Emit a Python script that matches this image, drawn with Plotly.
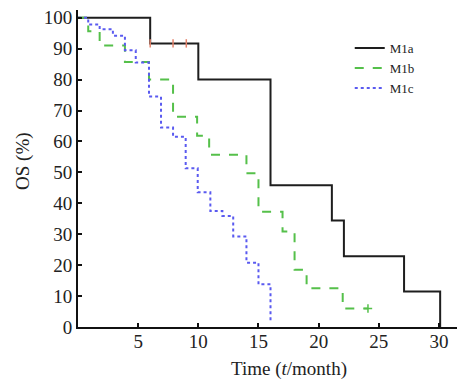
import plotly.graph_objects as go

# Kaplan-Meier step data (time in months, overall survival %)
m1a_t = [0, 6.0, 10.0, 16.0, 21.1, 22.1, 27.1, 30.1]
m1a_s = [100, 91.7, 80.0, 45.8, 34.4, 22.9, 11.5, 0]

m1b_t = [0, 0.85, 1.8, 3.9, 5.9, 7.9, 9.9, 10.9, 14.0, 15.0, 17.0, 18.0, 19.0, 22.0, 24.1]
m1b_s = [100, 95.6, 91.0, 85.7, 80.0, 68.0, 61.8, 55.7, 49.7, 37.3, 30.9, 18.5, 12.5, 6.0, 6.0]

m1c_t = [0, 0.85, 1.8, 2.9, 3.9, 4.8, 5.9, 6.9, 7.9, 8.95, 9.95, 11.0, 12.0, 12.9, 14.0, 15.0, 16.0]
m1c_s = [100, 97.8, 96.3, 94.2, 89.5, 85.5, 74.5, 64.5, 61.5, 51.3, 43.6, 37.5, 35.9, 29.3, 20.8, 13.8, 2.0]

# censored observations
cens_a_t = [6.0, 7.9, 9.0]
cens_a_s = [91.7, 91.7, 91.7]
cens_b_t = [24.1]
cens_b_s = [6.0]

x_ticks = [5, 10, 15, 20, 25, 30]
y_ticks = [0, 10, 20, 30, 40, 50, 60, 70, 80, 90, 100]

names = ["M1a", "M1b", "M1c"]
colors = ["#1e1e1e", "#55c04a", "#5a5af0"]
dashes = ["solid", "dash", "dot"]

FONT = "Liberation Serif"

fig = go.Figure()
for t, s, n, c, d in zip([m1a_t, m1b_t, m1c_t], [m1a_s, m1b_s, m1c_s], names, colors, dashes):
    fig.add_trace(go.Scatter(x=t, y=s, mode="lines", name=n, line_shape="hv",
                             line=dict(color=c, width=2, dash=d)))

fig.add_trace(go.Scatter(x=cens_a_t, y=cens_a_s, mode="markers", showlegend=False,
                         marker=dict(symbol="line-ns", size=6, line=dict(color="#e4826a", width=1.5))))
fig.add_trace(go.Scatter(x=cens_b_t, y=cens_b_s, mode="markers", showlegend=False,
                         marker=dict(symbol="cross-thin", size=6, line=dict(color="#55c04a", width=1.5))))

fig.update_layout(
    width=457, height=380,
    margin=dict(l=78, r=0, t=10, b=53, autoexpand=False),
    plot_bgcolor="white", paper_bgcolor="white",
    font=dict(family=FONT, color="#222222", size=18),
    showlegend=True,
    legend=dict(x=0.717, y=0.927, xanchor="left", yanchor="top",
                bgcolor="rgba(0,0,0,0)", font=dict(family=FONT, size=13, color="#222222"),
                itemwidth=30, tracegroupgap=0),
    xaxis=dict(range=[0, 31.5], tickvals=x_ticks, showline=True, linecolor="#111111", linewidth=2,
               ticks="inside", ticklen=4, tickwidth=1.5, tickcolor="#111111", ticklabelstandoff=-4,
               showgrid=False, zeroline=False, tickfont=dict(size=19, family=FONT)),
    yaxis=dict(range=[0, 102.5], tickvals=y_ticks, showline=True, linecolor="#111111", linewidth=2,
               ticks="inside", ticklen=4, tickwidth=1.5, tickcolor="#111111",
               showgrid=False, zeroline=False, tickfont=dict(size=19, family=FONT)),
    annotations=[
        dict(text="Time (<i>t</i>/month)", xref="paper", yref="paper", x=0.557, y=-0.133,
             xanchor="center", yanchor="middle", showarrow=False, font=dict(size=19, family=FONT)),
        dict(text="OS (%)", xref="paper", yref="paper", x=-0.145, y=0.524, textangle=-90,
             xanchor="center", yanchor="middle", showarrow=False, font=dict(size=19, family=FONT)),
    ],
)

fig.write_html("out.html", config={"displayModeBar": False},
               post_script="document.body.style.margin='0px';")
